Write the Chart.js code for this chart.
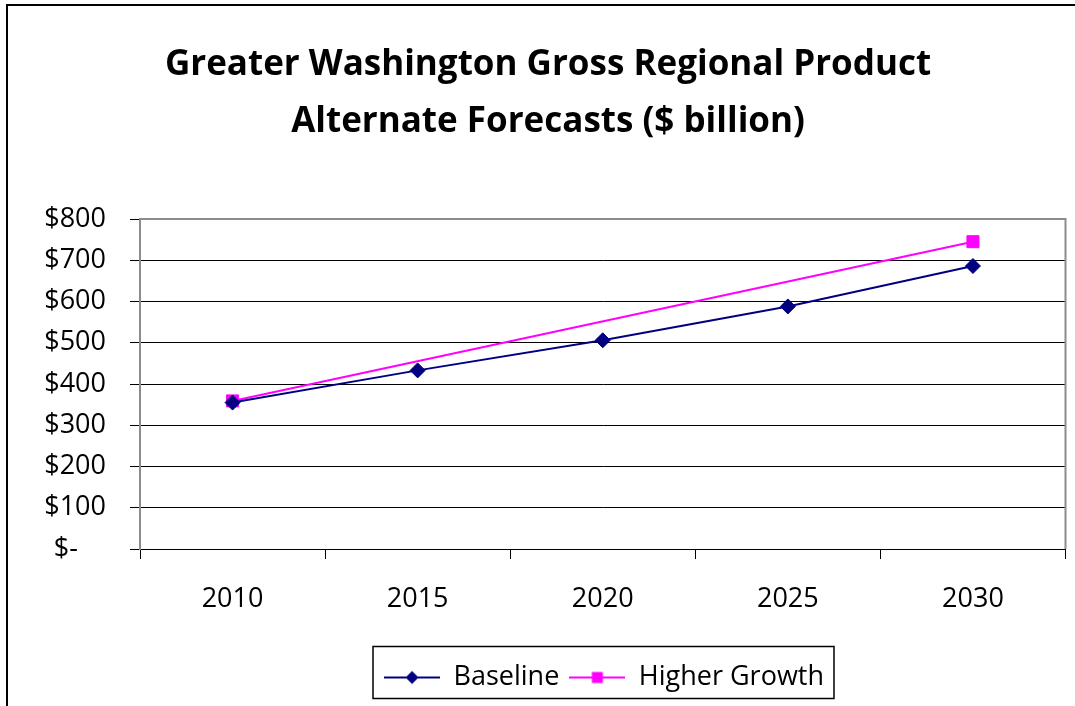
<!DOCTYPE html>
<html lang="en">
<head>
  <meta charset="UTF-8">
  <title>Greater Washington Gross Regional Product</title>
  <script src="https://cdn.jsdelivr.net/npm/chart.js"></script>
  <style>
    body { margin: 0; background: #fff; }
    canvas { display: block; }
  </style>
</head>
<body>
  <canvas id="grpChart" width="1075" height="706"></canvas>

  <script>
    const years = ['2010', '2015', '2020', '2025', '2030'];
    const baseline = [355, 433, 506, 588, 686];
    const higherGrowth = [359, null, null, null, 745];
    const yTicks = [0, 100, 200, 300, 400, 500, 600, 700, 800];

    const font = "'Open Sans', 'DejaVu Sans', sans-serif";

    // little line + marker pictures for the legend, like Excel draws them
    function legendSwatch(color, shape) {
      const c = document.createElement('canvas');
      c.width = 56; c.height = 20;
      const g = c.getContext('2d');
      g.strokeStyle = color;
      g.lineWidth = 2;
      g.beginPath(); g.moveTo(0, 10); g.lineTo(56, 10); g.stroke();
      g.fillStyle = color;
      g.beginPath();
      if (shape === 'diamond') {
        g.moveTo(28, 3.5); g.lineTo(34.5, 10); g.lineTo(28, 16.5); g.lineTo(21.5, 10);
      } else {
        g.rect(22.5, 4.5, 11, 11);
      }
      g.fill();
      return c;
    }

    const legendShift = { dx: 56, dy: -5 };

    const framePlugin = {
      id: 'frame',
      beforeDraw(chart) {
        const ctx = chart.ctx;
        ctx.save();
        ctx.fillStyle = '#fff';
        ctx.fillRect(0, 0, chart.width, chart.height);
        ctx.strokeStyle = '#000';
        ctx.lineWidth = 2;
        ctx.beginPath();
        ctx.moveTo(7, chart.height);
        ctx.lineTo(7, 5);
        ctx.lineTo(chart.width, 5);
        ctx.stroke();
        ctx.restore();
      },
      afterLayout(chart) {
        const l = chart.legend;
        l.left += legendShift.dx; l.right += legendShift.dx;
        l.top += legendShift.dy; l.bottom += legendShift.dy;
        l.legendHitBoxes.forEach(h => { h.left += legendShift.dx; h.top += legendShift.dy; });
      },
      afterDatasetsDraw(chart) {
        const { ctx, chartArea: a } = chart;
        ctx.save();
        ctx.strokeStyle = '#8c8c8c';
        ctx.lineWidth = 2;
        ctx.beginPath();
        ctx.moveTo(a.left, a.bottom);
        ctx.lineTo(a.left, a.top);
        ctx.lineTo(a.right, a.top);
        ctx.lineTo(a.right, a.bottom);
        ctx.stroke();
        ctx.restore();
      },
      afterDraw(chart) {
        const hb = chart.legend.legendHitBoxes;
        if (!hb.length) return;
        const first = hb[0], last = hb[hb.length - 1];
        const ctx = chart.ctx;
        const cy = first.top + first.height / 2;
        ctx.save();
        ctx.strokeStyle = '#000';
        ctx.lineWidth = 1.5;
        ctx.strokeRect(first.left - 11, cy - 26, last.left + last.width + 10 - (first.left - 11), 52);
        ctx.restore();
      }
    };

    new Chart(document.getElementById('grpChart'), {
      type: 'line',
      data: {
        labels: years,
        datasets: [{
          label: 'Baseline',
          data: baseline,
          borderColor: '#000080',
          backgroundColor: '#000080',
          borderWidth: 2,
          pointStyle: 'rectRot',
          pointRadius: 7.5,
          pointBorderWidth: 1,
          tension: 0
        }, {
          label: 'Higher Growth',
          data: higherGrowth,
          borderColor: '#ff00ff',
          backgroundColor: '#ff00ff',
          borderWidth: 2,
          pointStyle: 'rect',
          pointRadius: 8.5,
          pointBorderWidth: 1,
          spanGaps: true,
          tension: 0
        }]
      },
      options: {
        responsive: false,
        animation: false,
        layout: { padding: { left: 29, right: 8, top: 0, bottom: 0 } },
        plugins: {
          title: {
            display: true,
            text: ['Greater Washington Gross Regional Product', 'Alternate Forecasts ($ billion)'],
            color: '#000',
            font: { family: font, size: 35, weight: 'bold', lineHeight: '57px' },
            padding: { top: 37, bottom: 68 }
          },
          legend: {
            position: 'bottom',
            labels: {
              color: '#000',
              font: { family: font, size: 27 },
              usePointStyle: true,
              pointStyleWidth: 56,
              padding: 10,
              generateLabels(chart) {
                return chart.data.datasets.map((ds, i) => ({
                  text: ds.label,
                  datasetIndex: i,
                  fontColor: '#000',
                  pointStyle: legendSwatch(ds.borderColor, i === 0 ? 'diamond' : 'square'),
                  lineWidth: 0,
                  hidden: false
                }));
              }
            }
          },
          tooltip: { enabled: false }
        },
        scales: {
          x: {
            offset: true,
            afterFit(scale) { scale.height = 110; },
            grid: { offset: true, drawOnChartArea: false, tickLength: 10, color: '#000', lineWidth: 1 },
            border: { color: '#000', width: 1 },
            ticks: { color: '#000', font: { family: font, size: 27 }, padding: 24, maxRotation: 0 }
          },
          y: {
            min: 0,
            max: 800,
            afterFit(scale) { scale.width = 111; },
            afterBuildTicks(scale) { scale.ticks = yTicks.map(v => ({ value: v })); },
            grid: { color: '#000', lineWidth: 1, tickLength: 10 },
            border: { color: '#8c8c8c', width: 2 },
            ticks: {
              color: '#000',
              font: { family: font, size: 27 },
              padding: 24,
              callback: v => v === 0 ? '$-    ' : '$' + v
            }
          }
        }
      },
      plugins: [framePlugin]
    });
  </script>
</body>
</html>
